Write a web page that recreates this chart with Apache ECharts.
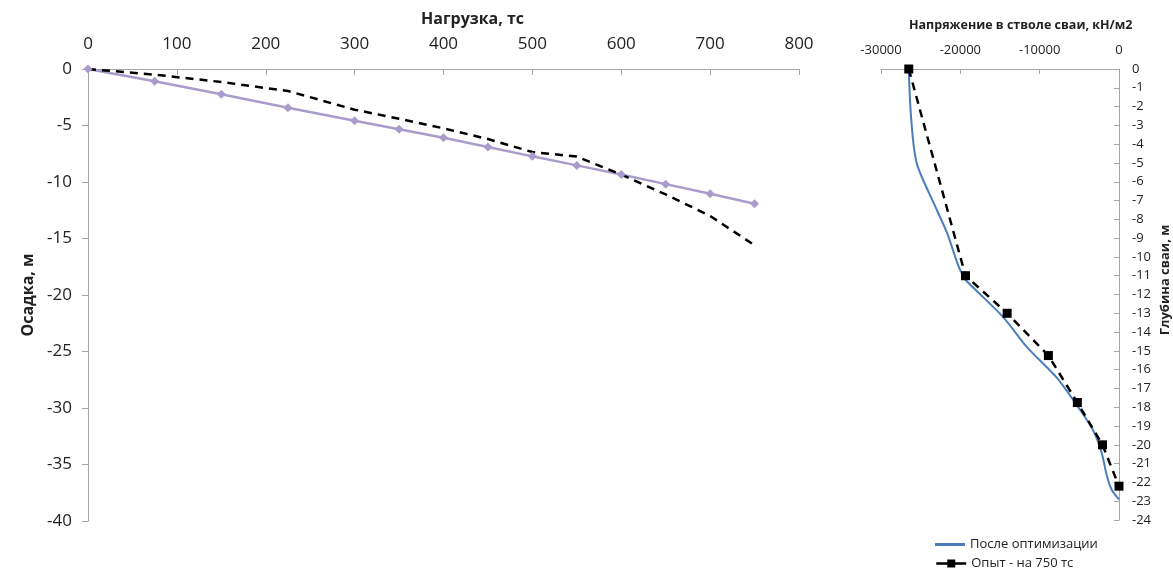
<!DOCTYPE html>
<html>
<head>
<meta charset="utf-8">
<script src="https://cdn.jsdelivr.net/npm/echarts@6/dist/echarts.min.js"></script>
<style>
  html, body { margin: 0; padding: 0; background: #fff; }
  #chart { width: 1173px; height: 572px; }
</style>
</head>
<body>
<div id="chart"></div>
<script>
// Load–settlement curve (left panel)
const loads = [0, 75, 150, 225, 300, 350, 400, 450, 500, 550, 600, 650, 700, 750];
const settlementCalc = [0, -1.09, -2.24, -3.43, -4.58, -5.34, -6.08, -6.91, -7.73, -8.53, -9.33, -10.19, -11.04, -11.93];
const settlementTest = [0, -0.5, -1.15, -1.95, -3.6, -4.4, -5.25, -6.2, -7.35, -7.75, -9.35, -11.1, -13.0, -15.6];

// Stress along the pile shaft (right panel)
const optStress = [-26500, -26300, -25900, -25500, -24800, -23400, -21700, -20400, -19800, -19400, -14600, -11600, -7900, -5300, -3300, -2200, -1500, -900, 0];
const optDepth  = [0, -2, -4, -5, -5.8, -7.1, -8.7, -10.3, -10.9, -11.2, -13.2, -14.8, -16.4, -17.9, -19.2, -20.4, -21.7, -22.4, -22.9];
const testStress = [-26500, -19350, -14100, -8900, -5250, -2080, 0];
const testDepth  = [0, -11, -13, -15.25, -17.75, -20, -22.2];

const seriesNames = ['После оптимизации', 'Опыт - на 750 тс'];

const FONT = '"Open Sans", "Noto Sans", sans-serif';
const AXIS_GRAY = '#A6A6A6';
const TEXT = '#222';
const BLUE = '#4A7EBB';
const LILAC = '#A99CCB';

const zip = (xs, ys) => xs.map((x, i) => [x, ys[i]]);
const plain = v => String(v);

const chart = echarts.init(document.getElementById('chart'));
chart.setOption({
  animation: false,
  textStyle: { fontFamily: FONT, color: TEXT },
  title: [
    { text: 'Нагрузка, тс', left: 416, top: 6,
      textStyle: { fontFamily: FONT, fontSize: 16, fontWeight: 'bold', color: TEXT } },
    { text: 'Напряжение в стволе сваи, кН/м2', left: 904, top: 14,
      textStyle: { fontFamily: FONT, fontSize: 12.5, fontWeight: 'bold', color: TEXT } }
  ],
  graphic: [
    { type: 'text', x: 1165, y: 280, rotation: Math.PI / 2,
      style: { text: 'Глубина сваи, м', fontFamily: FONT, fontSize: 13, fontWeight: 'bold',
               fill: TEXT, align: 'center', verticalAlign: 'middle' } }
  ],
  legend: [
    { left: 930, top: 533, itemWidth: 30, itemHeight: 3,
      data: [{ name: seriesNames[0], icon: 'rect' }],
      textStyle: { fontFamily: FONT, fontSize: 13, color: TEXT } },
    { left: 930, top: 552, itemWidth: 30, itemHeight: 10,
      data: [seriesNames[1]],
      lineStyle: { type: 'solid', width: 2.5 },
      textStyle: { fontFamily: FONT, fontSize: 13, color: TEXT } }
  ],
  grid: [
    { left: 88, top: 69, width: 711, height: 452 },
    { left: 881, top: 69, width: 238, height: 451 }
  ],
  xAxis: [
    { gridIndex: 0, type: 'value', position: 'top', min: 0, max: 800, interval: 100,
      axisLine: { show: true, lineStyle: { color: AXIS_GRAY } },
      axisTick: { show: true, inside: true, length: 6, lineStyle: { color: AXIS_GRAY } },
      axisLabel: { margin: 16, fontSize: 17, color: TEXT, fontFamily: FONT, formatter: plain },
      splitLine: { show: false } },
    { gridIndex: 1, type: 'value', position: 'top', min: -30000, max: 0, interval: 10000,
      axisLine: { show: true, onZero: false, lineStyle: { color: AXIS_GRAY } },
      axisTick: { show: true, inside: true, length: 5, lineStyle: { color: AXIS_GRAY } },
      axisLabel: { margin: 12, fontSize: 13, color: TEXT, fontFamily: FONT, formatter: plain },
      splitLine: { show: false } }
  ],
  yAxis: [
    { gridIndex: 0, type: 'value', position: 'left', min: -40, max: 0, interval: 5,
      name: 'Осадка, м', nameLocation: 'middle', nameGap: 50,
      nameTextStyle: { fontFamily: FONT, fontSize: 16, fontWeight: 'bold', color: TEXT },
      axisLine: { show: true, onZero: false, lineStyle: { color: AXIS_GRAY } },
      axisTick: { show: true, length: 6, lineStyle: { color: AXIS_GRAY } },
      axisLabel: { margin: 16, fontSize: 17, color: TEXT, fontFamily: FONT, formatter: plain },
      splitLine: { show: false } },
    { gridIndex: 1, type: 'value', position: 'right', min: -24, max: 0, interval: 1,
      axisLine: { show: true, onZero: false, lineStyle: { color: AXIS_GRAY } },
      axisTick: { show: true, inside: true, length: 5, lineStyle: { color: AXIS_GRAY } },
      axisLabel: { margin: 13, fontSize: 13, color: TEXT, fontFamily: FONT, formatter: plain },
      splitLine: { show: false } }
  ],
  series: [
    { name: 'Расчёт', type: 'line', xAxisIndex: 0, yAxisIndex: 0,
      data: zip(loads, settlementCalc),
      symbol: 'diamond', symbolSize: 9,
      lineStyle: { color: LILAC, width: 2.5 },
      itemStyle: { color: LILAC } },
    { name: 'Опыт', type: 'line', xAxisIndex: 0, yAxisIndex: 0,
      data: zip(loads, settlementTest),
      symbol: 'none',
      lineStyle: { color: '#000', width: 2.5, type: [8, 6] } },
    { name: seriesNames[0], type: 'line', xAxisIndex: 1, yAxisIndex: 1,
      data: zip(optStress, optDepth),
      symbol: 'none', smooth: 0.3,
      lineStyle: { color: BLUE, width: 2 },
      itemStyle: { color: BLUE } },
    { name: seriesNames[1], type: 'line', xAxisIndex: 1, yAxisIndex: 1,
      data: zip(testStress, testDepth),
      symbol: 'rect', symbolSize: 9,
      lineStyle: { color: '#000', width: 2.5, type: [8, 6] },
      itemStyle: { color: '#000' } }
  ]
});
</script>
</body>
</html>
